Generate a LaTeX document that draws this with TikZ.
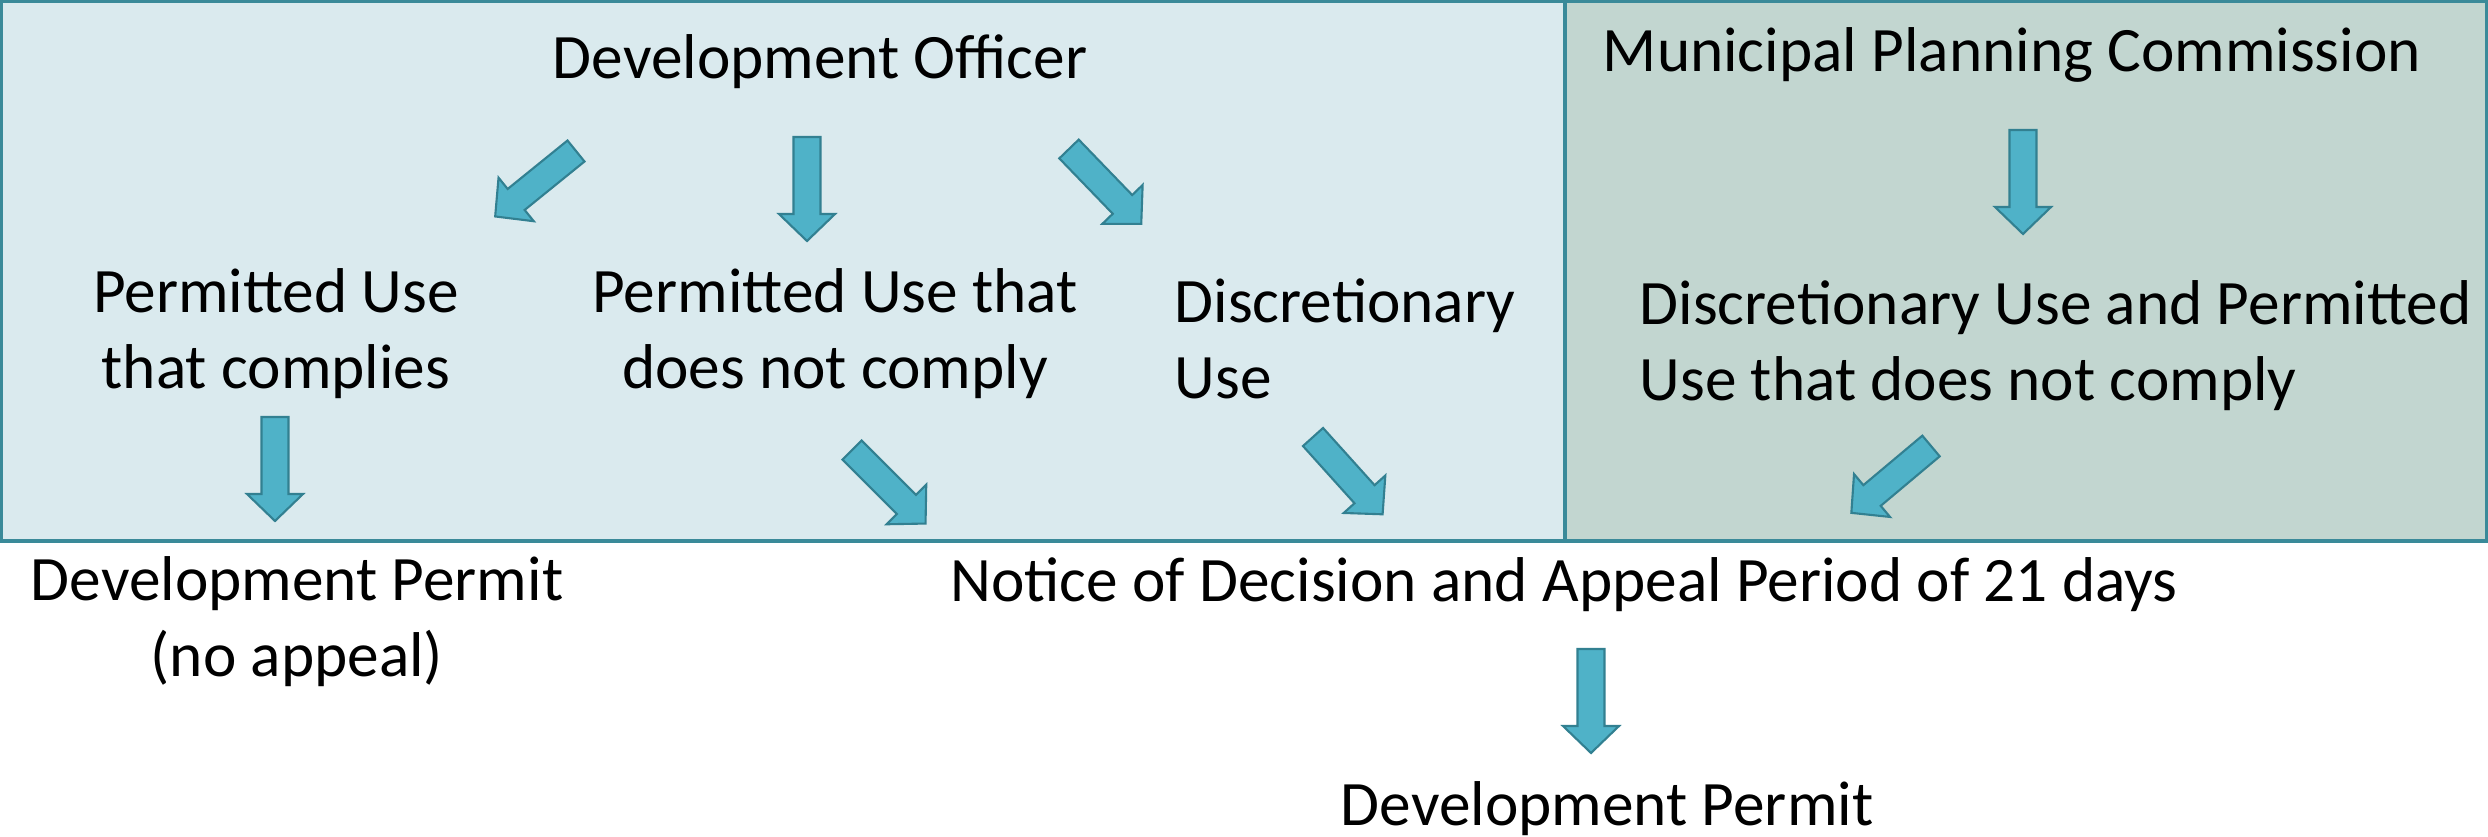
\documentclass[tikz,border=0pt]{standalone}
\usepackage{fontspec}
\setmainfont{Carlito}
\usepackage{xcolor}

\definecolor{panelblue}{HTML}{DAEAEE}
\definecolor{panelgreen}{HTML}{C2D6D0}
\definecolor{frameteal}{HTML}{3A8A99}
\definecolor{arrowfill}{HTML}{4FB2C8}
\definecolor{arrowline}{HTML}{328091}

\tikzset{
    txt/.style={inner sep=0pt, font=\fontsize{18}{21.6}\selectfont},
    arrowbody/.style={fill=arrowfill, draw=arrowline, line width=0.6pt, line join=miter},
    pics/blockarrow/.style={code={
        \draw[arrowbody] (0,-13.5) -- (77,-13.5) -- (77,-28) -- (104,0)
            -- (77,28) -- (77,13.5) -- (0,13.5) -- cycle;
    }}
}

\begin{document}
\begin{tikzpicture}[x=0.01cm, y=-0.01cm]

    \useasboundingbox (0,0) rectangle (2488,836);

    % Panels
    \fill[panelblue] (0,0) rectangle (1565,541);
    \fill[panelgreen] (1565,0) rectangle (2488,541);
    \draw[frameteal, line width=0.9pt] (1.5,1.5) rectangle (2486.5,541);
    \draw[frameteal, line width=0.9pt] (1565,1.5) -- (1565,541);

    % Headings
    \node[txt, anchor=base] (officer) at (820,78) {Development Officer};
    \node[txt, anchor=base] (mpc) at (2012,71) {Municipal Planning Commission};

    % Cases (base = last line)
    \node[txt, anchor=base, align=center] (complies) at (276,388) {Permitted Use\\that complies};
    \node[txt, anchor=base, align=center] (nocomply) at (835,388) {Permitted Use that\\does not comply};
    \node[txt, anchor=base west, align=left] (discr) at (1174,398) {Discretionary\\Use};
    \node[txt, anchor=base west, align=left] (mpcuse) at (1639,400) {Discretionary Use and Permitted\\Use that does not comply};

    % Outcomes
    \node[txt, anchor=base, align=center] (permitna) at (297,676) {Development Permit\\(no appeal)};
    \node[txt, anchor=base] (notice) at (1564,601) {Notice of Decision and Appeal Period of 21 days};
    \node[txt, anchor=base] (permit) at (1607,825) {Development Permit};

    % Block arrows: tail x / tail y / angle
    \foreach \x/\y/\a in {576/151/-141, 807/137/-90, 1069/149/-46,
                          275/417/-90, 852/450/-45, 1313/437/-48,
                          2023/130/-90, 1931/446/-140, 1591/649/-90}
        \pic[rotate=\a] at (\x,\y) {blockarrow};

\end{tikzpicture}
\end{document}
